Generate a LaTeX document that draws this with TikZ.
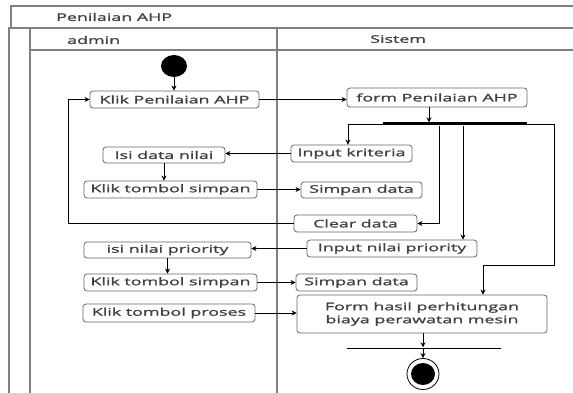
\documentclass[tikz,border=0pt]{standalone}
\usepackage{fontspec}
\setmainfont[FakeStretch=1.70,FakeBold=1.3]{Open Sans}
\usetikzlibrary{arrows.meta,shapes.geometric}
\begin{document}
\begin{tikzpicture}[x=1pt,y=-1pt,
  font=\fontsize{10.5}{13}\selectfont,
  frame/.style={draw=black!50, line width=1.3pt},
  act/.style={draw=black!60, line width=0.8pt, rounded corners=3pt, fill=white,
              inner sep=0pt, text=black!75, align=center},
  lbl/.style={inner sep=0pt, anchor=west, text=black!75},
  conn/.style={draw=black, line width=0.7pt},
  arr/.style={conn, -{Stealth[length=5pt,width=5pt]}},
  bar/.style={fill=black, inner sep=0pt}]
\useasboundingbox (0,0) rectangle (573,393);

% swimlane frame
\draw[frame] (11,28) -- (11,6) -- (573,6);
\draw[frame] (8,28) -- (573,28);
\draw[frame] (9,28) -- (9,393);
\draw[frame] (30,28) -- (30,393);
\draw[frame] (277,28) -- (277,393);
\draw[frame] (30,50) -- (573,50);

\node[lbl] (title) at (56,17) {Penilaian AHP};
\node[lbl] (laneA) at (67,40) {admin};
\node[lbl] (laneB) at (370,39) {Sistem};

% initial and final states
\node[bar, ellipse, minimum width=26pt, minimum height=22pt] (start) at (174,66) {};
\node[draw=black, line width=0.8pt, ellipse, minimum width=32pt, minimum height=31pt,
      inner sep=0pt] (stop) at (423,374) {};
\fill[black] (stop.center) ellipse (12pt and 11pt);

% fork and join bars
\node[bar, minimum width=144pt, minimum height=3pt] (fork) at (455,124) {};
\node[bar, minimum width=154pt, minimum height=1pt] (join) at (424,348) {};

% activities
\node[act, minimum width=169pt, minimum height=17pt] (kpa)  at (174.5,99.5) {Klik Penilaian AHP};
\node[act, minimum width=180pt, minimum height=19pt] (fpa)  at (437,97.5)  {form Penilaian AHP};
\node[act, minimum width=121pt, minimum height=17pt] (ik)   at (351.5,153.5) {Input kriteria};
\node[act, minimum width=122pt, minimum height=16pt] (idn)  at (164,155)   {Isi data nilai};
\node[act, minimum width=173pt, minimum height=17pt] (kts1) at (170.5,189.5) {Klik tombol simpan};
\node[act, minimum width=121pt, minimum height=16pt] (sd1)  at (361.5,190) {Simpan data};
\node[act, minimum width=123pt, minimum height=17pt] (cd)   at (355.5,223.5) {Clear data};
\node[act, minimum width=170pt, minimum height=17pt] (inp)  at (392,248.5) {Input nilai priority};
\node[act, minimum width=167pt, minimum height=16pt] (isp)  at (167.5,250) {isi nilai priority};
\node[act, minimum width=173pt, minimum height=17pt] (kts2) at (170.5,282.5) {Klik tombol simpan};
\node[act, minimum width=121pt, minimum height=17pt] (sd2)  at (356.5,282.5) {Simpan data};
\node[act, minimum width=172pt, minimum height=18pt] (ktp)  at (169,313)   {Klik tombol proses};
\node[act, minimum width=250pt, minimum height=38pt] (fh)   at (422,314)
  {Form hasil perhitungan\\biaya perawatan mesin};

% routing points
\coordinate (fin) at (429,0);
\coordinate (b1) at (348,0);
\coordinate (b2) at (439,0);
\coordinate (b3) at (463,0);
\coordinate (lp) at (68,0);
\coordinate (r1) at (554,265);
\coordinate (r2) at (483,265);
\coordinate (jx) at (423,0);

% flows
\draw[arr] (start.south) -- (start.south |- kpa.north);
\draw[arr] (kpa.east) -- (kpa.east -| fpa.west);
\draw[arr] (fin |- fpa.south) -- (fin |- fork.north);
\draw[arr] (fork.west) -- (fork.west -| b1) -- (b1 |- ik.north);
\draw[arr] (ik.west) -- (ik.west -| idn.east);
\draw[arr] (idn.south) -- (idn.south |- kts1.north);
\draw[arr] (kts1.east) -- (kts1.east -| sd1.west);
\draw[arr] (b2 |- fork.south) |- (cd.east);
\draw[arr] (b3 |- fork.south) -- (b3 |- inp.north);
\draw[arr] (cd.west) -- (cd.west -| lp) |- (kpa.west);
\draw[arr] (inp.west) -- (inp.west -| isp.east);
\draw[arr] (isp.south) -- (isp.south |- kts2.north);
\draw[arr] (kts2.east) -- (kts2.east -| sd2.west);
\draw[arr] (ktp.east) -- (ktp.east -| fh.west);
\draw[arr] (fork.east) -- (fork.east -| r1) -- (r1) -- (r2) -- (r2 |- fh.north);
\draw[arr] (jx |- fh.south) -- (jx |- join.north);
\draw[arr] (jx |- join.south) -- (stop.north);
\end{tikzpicture}
\end{document}
